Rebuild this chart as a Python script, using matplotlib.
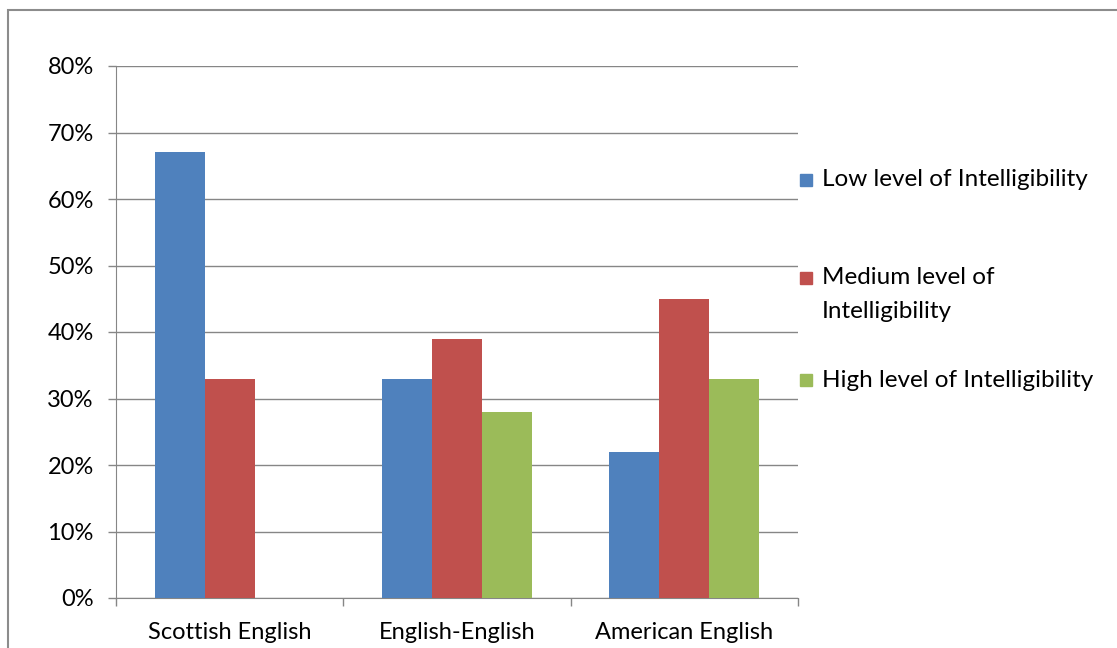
import matplotlib.pyplot as plt
import numpy as np
from matplotlib.patches import Rectangle
from matplotlib.ticker import FixedLocator, PercentFormatter

categories = ["Scottish English", "English-English", "American English"]
series_names = ["Low level of Intelligibility",
                "Medium level of\nIntelligibility",
                "High level of Intelligibility"]
low = [67, 33, 22]
medium = [33, 39, 45]
high = [0, 28, 33]
colors = ["#4F81BD", "#C0504D", "#9BBB59"]

plt.rcParams['font.family'] = ['Lato', 'DejaVu Sans']

W, H = 1117, 648
fig = plt.figure(figsize=(W / 100, H / 100), dpi=100)
# outer chart border
fig.patches.append(Rectangle((8 / W, -0.1), 1.2, (H - 10) / H + 0.1,
                             transform=fig.transFigure, fill=False,
                             edgecolor="#8c8c8c", linewidth=1.5))

ax = fig.add_axes([116 / W, 50 / H, (798 - 116) / W, (598 - 66) / H])

x = np.arange(len(categories))
w = 0.22
for i, (vals, name) in enumerate(zip([low, medium, high], series_names)):
    ax.bar(x + (i - 1) * w, vals, width=w, color=colors[i], label=name, zorder=3)

ax.set_xlim(-0.5, 2.5)
ax.set_ylim(0, 80)
ax.set_yticks(np.arange(0, 81, 10))
ax.yaxis.set_major_formatter(PercentFormatter(decimals=0))
ax.grid(axis="y", color="#868686", linewidth=1, zorder=0)

ax.set_xticks(x)
ax.set_xticklabels(categories)
ax.xaxis.set_minor_locator(FixedLocator([-0.5, 0.5, 1.5, 2.5]))
ax.tick_params(axis="x", which="major", length=0, pad=17, labelsize=17, colors="black")
ax.tick_params(axis="x", which="minor", length=6, color="#868686", width=1)
ax.tick_params(axis="y", length=6, color="#868686", width=1, labelsize=17, pad=10)

for s in ["top", "right"]:
    ax.spines[s].set_visible(False)
ax.spines["left"].set_color("#868686")
ax.spines["bottom"].set_color("#868686")
ax.set_axisbelow(True)

# legend drawn Excel-style: marker aligned with first text line
legend_y = [180, 278, 380]  # pixel rows from top
line_gap = 33
for name, col, yy in zip(series_names, colors, legend_y):
    fig.patches.append(Rectangle((800 / W, 1 - (yy + 6) / H), 12 / W, 12 / H,
                                 transform=fig.transFigure, color=col))
    for k, line in enumerate(name.split("\n")):
        fig.text(822 / W, 1 - (yy + k * line_gap) / H, line, fontsize=17.5,
                 va="center", ha="left", color="black")

fig.savefig("out.png", dpi=100)
